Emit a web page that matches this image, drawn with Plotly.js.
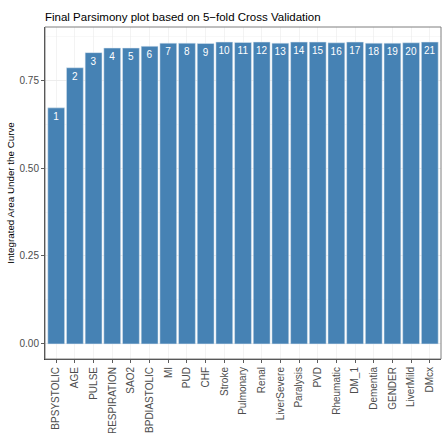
<!DOCTYPE html>
<html><head><meta charset="utf-8">
<script src="https://cdn.plot.ly/plotly-3.0.1.min.js"></script>
<style>html,body{margin:0;padding:0;background:#fff}#chart{width:442px;height:433px}</style>
</head><body><div id="chart"></div>
<script>
const variables = ["BPSYSTOLIC","AGE","PULSE","RESPIRATION","SAO2","BPDIASTOLIC","MI","PUD","CHF","Stroke","Pulmonary","Renal","LiverSevere","Paralysis","PVD","Rheumatic","DM_1","Dementia","GENDER","LiverMild","DMcx"];
const auc = [0.671,0.785,0.828,0.841,0.841,0.846,0.855,0.855,0.854,0.858,0.857,0.858,0.855,0.858,0.858,0.856,0.858,0.855,0.855,0.856,0.858];
const orderLabels = variables.map((v,i)=>String(i+1));
const yTicks = [0,0.25,0.5,0.75];
const yTickText = ["0.00","0.25","0.50","0.75"];

const font = "Liberation Sans, Arial, sans-serif";
const trace = {
  type:'bar', x: variables, y: auc, width:0.9,
  marker:{color:'#4682B4', line:{color:'#dfe8f0', width:0.5}},
  text: orderLabels, textposition:'inside', insidetextanchor:'end',
  textfont:{family:font, size:10, color:'#ffffff'}, textangle:0,
  constraintext:'none', cliponaxis:false, hoverinfo:'skip'
};
const layout = {
  width:442, height:433,
  margin:{l:45, r:1, t:27, b:74},
  paper_bgcolor:'#fff', plot_bgcolor:'#fff',
  font:{family:font, size:10, color:'#4d4d4d'},
  showlegend:false, bargap:0.1,
  uniformtext:{mode:false},
  title:{text:'Final Parsimony plot based on 5\u2212fold Cross Validation', font:{family:font, size:11.5, color:'#000'}, x:45/442, xanchor:'left', y:1-17/433, yanchor:'middle'},
  xaxis:{type:'category', categoryorder:'array', categoryarray:variables, range:[-0.6,20.6],
    showgrid:true, gridcolor:'#ebebeb', gridwidth:0.6, tickangle:-90,
    ticks:'outside', ticklen:3, tickcolor:'#333', tickwidth:0.8,
    showline:true, linecolor:'#333', linewidth:1,
    tickfont:{family:font, size:10, color:'#4d4d4d'}, zeroline:false, fixedrange:true},
  yaxis:{range:[-0.0429,0.9009], tickvals:yTicks, ticktext:yTickText,
    showgrid:true, gridcolor:'#ebebeb', gridwidth:0.9,
    minor:{tickvals:[0.125,0.375,0.625,0.875], showgrid:true, gridcolor:'#f2f2f2', gridwidth:0.5, ticks:''},
    ticks:'outside', ticklen:3, tickcolor:'#333', tickwidth:0.8,
    showline:true, linecolor:'#333', linewidth:1, zeroline:false,
    tickfont:{family:font, size:10, color:'#4d4d4d'},
    title:{text:'Integrated Area Under the Curve', font:{family:font, size:9.8, color:'#000'}, standoff:3}, fixedrange:true},
  shapes:[{type:'rect', xref:'paper', yref:'paper', x0:0, x1:1, y0:0, y1:1, line:{color:'#7f7f7f', width:1}, fillcolor:'rgba(0,0,0,0)', layer:'above'}]
};
Plotly.newPlot('chart',[trace],layout,{displayModeBar:false, staticPlot:true});
</script></body></html>
